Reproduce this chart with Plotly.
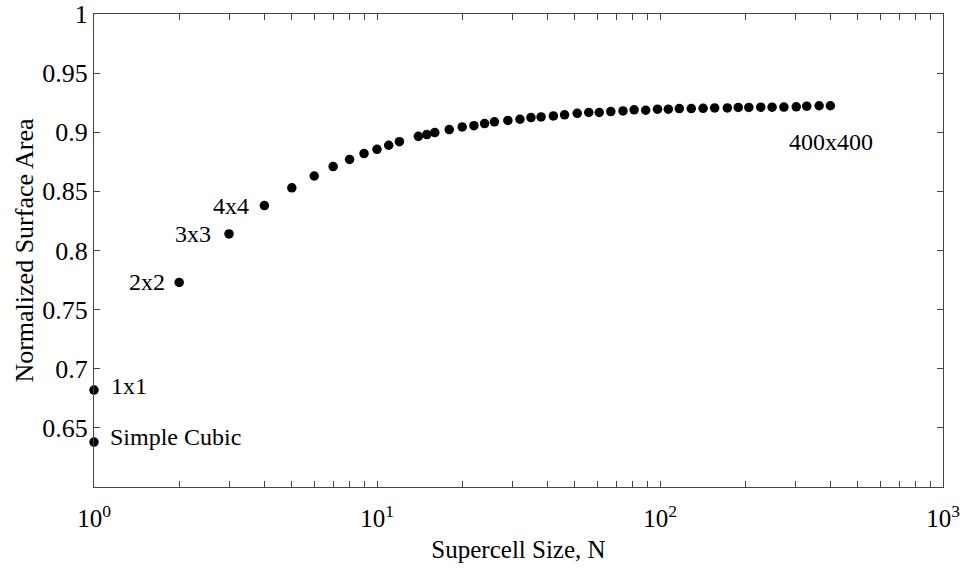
import numpy as np
import plotly.graph_objects as go

# Data
supercell_n = [1, 1, 2, 3, 4, 5, 6, 7, 8, 9, 10, 11, 12, 14, 15, 16, 18, 20, 22, 24, 26,
               29, 32, 35, 38, 42, 46, 51, 56, 61, 67, 74, 81, 89, 98, 107, 117,
               129, 142, 156, 173, 189, 206, 227, 249, 274, 303, 330, 365, 400]
surface_area = [0.638, 0.682, 0.773, 0.814, 0.838, 0.853, 0.863, 0.871, 0.877, 0.882,
                0.8856, 0.889, 0.892, 0.8966, 0.898, 0.8997, 0.9023, 0.9045, 0.9056,
                0.9073, 0.9088, 0.910, 0.911, 0.9124, 0.913, 0.9138, 0.9147, 0.916,
                0.9167, 0.9167, 0.9175, 0.918, 0.919, 0.9186, 0.9195, 0.9195, 0.920,
                0.9200, 0.9202, 0.9206, 0.9206, 0.921, 0.921, 0.9212, 0.9212, 0.9213,
                0.9215, 0.922, 0.9224, 0.9224]

# labelled points: (index into arrays, text, anchor, xshift, yshift)
label_idx = [0, 1, 2, 3, 4, 49]
label_text = ["Simple Cubic", "1x1", "2x2", "3x3", "4x4", "400x400"]
label_anchor = ["left", "left", "right", "right", "right", "center"]
label_xshift = [14, 15, -12, -16, -13, 1]
label_yshift = [5, 4, 0, 0, 0, -36]

x_tickvals = [1, 10, 100, 1000]
x_ticktext = ["10<sup>0</sup>", "10<sup>1</sup>", "10<sup>2</sup>", "10<sup>3</sup>"]
y_tickvals = [0.65, 0.7, 0.75, 0.8, 0.85, 0.9, 0.95, 1.0]
y_ticktext = ["0.65", "0.7", "0.75", "0.8", "0.85", "0.9", "0.95", "1"]

FONT = "Liberation Serif, Times New Roman, serif"

minor_vals = [m * 10 ** d for d in range(0, 3) for m in range(2, 10)]

fig = go.Figure()
fig.add_trace(go.Scatter(
    x=supercell_n, y=surface_area, mode="markers",
    marker=dict(color="black", size=9.5),
    cliponaxis=False, showlegend=False,
))

for i, t, a, xs, ys in zip(label_idx, label_text, label_anchor, label_xshift, label_yshift):
    fig.add_annotation(x=np.log10(supercell_n[i]), y=surface_area[i], text=t,
                       showarrow=False, xanchor=a, yanchor="middle",
                       xshift=xs, yshift=ys,
                       font=dict(family=FONT, size=24, color="black"))

axis_common = dict(showline=True, linecolor="#444", linewidth=1, mirror="ticks",
                   ticks="inside", ticklen=6, tickcolor="#444", showgrid=False,
                   zeroline=False, automargin=False, ticklabeloverflow="allow")

fig.update_xaxes(type="log", range=[0, 3], tickvals=x_tickvals, ticktext=x_ticktext,
                 ticklabelstandoff=9,
                 tickfont=dict(family=FONT, size=25, color="black"),
                 minor=dict(tickvals=minor_vals, ticks="inside", ticklen=6, tickcolor="#444"),
                 title=dict(text="Supercell Size, N", font=dict(family=FONT, size=25, color="black"),
                            standoff=9),
                 **axis_common)
fig.update_yaxes(range=[0.6, 1.0], tickvals=y_tickvals, ticktext=y_ticktext,
                 tickfont=dict(family=FONT, size=26, color="black"),
                 ticklabelstandoff=0,
                 title=dict(text="Normalized Surface Area", font=dict(family=FONT, size=26, color="black"),
                            standoff=1),
                 **axis_common)

fig.update_layout(width=960, height=568, margin=dict(l=94, r=17, t=14, b=81),
                  paper_bgcolor="white", plot_bgcolor="white",
                  font=dict(family=FONT, size=24, color="black"))

fig.write_html("out.html")
